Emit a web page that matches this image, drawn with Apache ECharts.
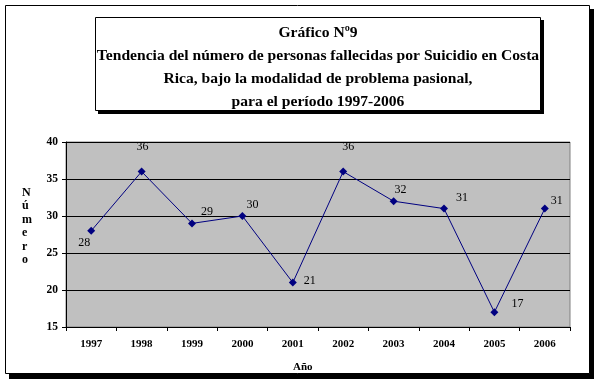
<!DOCTYPE html>
<html><head><meta charset="utf-8">
<script src="https://cdn.jsdelivr.net/npm/echarts@6/dist/echarts.min.js"></script>
<style>html,body{margin:0;padding:0;background:#fff}#c{width:600px;height:384px}</style>
</head><body><div id="c"></div>
<script>
var years = ['1997','1998','1999','2000','2001','2002','2003','2004','2005','2006'];
var values = [28,36,29,30,21,36,32,31,17,31];
var labelOffsets = [[-7,12],[1,-25],[15,-12],[10,-11],[17,-2],[5,-25],[7,-11],[18,-11],[23,-8],[12,-8]];
var yTicks = {min:15, max:40, interval:5};
var titleLines = ['Gráfico Nº9','Tendencia del número de personas fallecidas por Suicidio en Costa','Rica, bajo la modalidad de problema pasional,','para el período 1997-2006'];
var F = '"Liberation Serif","Times New Roman",serif';

var chart = echarts.init(document.getElementById('c'));
var data = values.map(function(v,i){
  return {value:v, label:{offset:labelOffsets[i]}};
});
chart.setOption({
  animation:false,
  backgroundColor:'#fff',
  graphic:[
    {type:'rect', z:-12, shape:{x:9,y:9,width:585,height:370}, style:{fill:'#000'}},
    {type:'rect', z:-11, shape:{x:5.5,y:5.5,width:584,height:368}, style:{fill:'#fff', stroke:'#000', lineWidth:1}},
    {type:'rect', z:-6, shape:{x:98,y:20,width:446,height:94}, style:{fill:'#000'}},
    {type:'rect', z:-5, shape:{x:95.5,y:17.5,width:445,height:93}, style:{fill:'#fff', stroke:'#000', lineWidth:1}},
    {type:'text', z:10, style:{x:318, y:21, text:titleLines.join('\n'), font:'bold 15.6px '+F, fill:'#000', align:'center', textAlign:'center', lineHeight:23}}
  ],
  title:[
    {text:'N\nú\nm\ne\nr\no', left:17, top:181, textStyle:{fontFamily:F, fontWeight:'bold', fontSize:12, lineHeight:13.5, color:'#000'}},
    {text:'Año', left:288, top:357, textStyle:{fontFamily:F, fontWeight:'bold', fontSize:11, color:'#000'}}
  ],
  grid:{left:66, right:30, top:142, bottom:57, show:true, backgroundColor:'#c0c0c0', borderColor:'#808080', borderWidth:1},
  xAxis:{type:'category', data:years, boundaryGap:true,
    axisLine:{lineStyle:{color:'#000'}},
    axisTick:{show:true, length:4, alignWithLabel:false, lineStyle:{color:'#000'}},
    axisLabel:{fontFamily:F, fontWeight:'bold', fontSize:11, color:'#000', margin:12}},
  yAxis:{type:'value', min:yTicks.min, max:yTicks.max, interval:yTicks.interval,
    axisLine:{show:true, lineStyle:{color:'#000'}},
    axisTick:{show:true, length:4, lineStyle:{color:'#000'}},
    splitLine:{show:true, lineStyle:{color:'#000', width:1}},
    axisLabel:{fontFamily:F, fontWeight:'bold', fontSize:11.5, color:'#000', margin:8}},
  series:[{type:'line', data:data, symbol:'diamond', symbolSize:8,
    itemStyle:{color:'#000080'}, lineStyle:{color:'#000080', width:1},
    label:{show:true, position:'inside', fontFamily:F, fontSize:12, color:'#000'}}]
});
</script></body></html>
